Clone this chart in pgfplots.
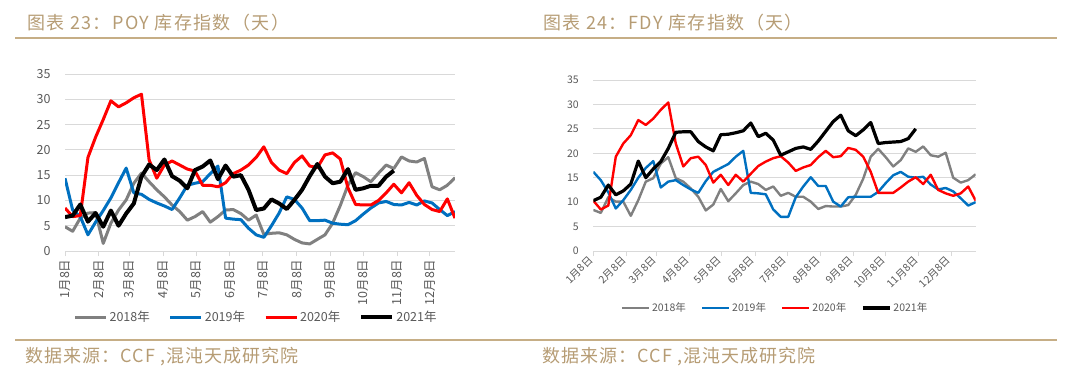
\documentclass[border=0pt]{standalone}
\usepackage{fontspec}
\setmainfont{Noto Sans CJK SC}
\newfontfamily\headfont[LetterSpace=8]{Noto Sans CJK SC}
\newfontfamily\srcfont[LetterSpace=6]{Noto Sans CJK SC}
\usepackage{pgfplots}
\pgfplotsset{compat=1.18}
\usepackage{pgfplotstable}

\definecolor{tanc}{RGB}{182,156,116}
\definecolor{rulec}{RGB}{198,174,134}
\definecolor{cgray}{RGB}{128,128,128}
\definecolor{cblue}{RGB}{0,112,192}
\definecolor{cred}{RGB}{255,0,0}
\definecolor{gridc}{RGB}{217,217,217}
\definecolor{labc}{RGB}{89,89,89}

% ---------- POY ----------
\pgfplotstableread{
x y
0 4.8
1 3.9
2 6.5
3 7.5
4 7.6
5 1.5
6 5.5
7 8.1
8 10.1
9 13.4
10 15.4
11 13.7
12 12.1
13 10.7
14 9.1
15 7.8
16 6.1
17 6.8
18 7.8
19 5.7
20 6.8
21 8.1
22 8.2
23 7.4
24 6.1
25 7.1
26 3.3
27 3.5
28 3.6
29 3.2
30 2.3
31 1.6
32 1.4
33 2.3
34 3.2
35 5.5
36 9.0
37 13.0
38 15.5
39 14.7
40 13.7
41 15.4
42 17.0
43 16.3
44 18.6
45 17.8
46 17.6
47 18.3
48 12.7
49 12.1
50 13.0
51 14.5
}\poyA
\pgfplotstableread{
x y
0 14.4
1 8.1
2 6.8
3 3.2
4 5.7
5 8.0
6 10.5
7 13.5
8 16.4
9 11.5
10 11.2
11 10.2
12 9.5
13 8.9
14 8.2
15 10.5
16 13.0
17 13.4
18 13.7
19 15.3
20 16.8
21 6.5
22 6.3
23 6.2
24 4.5
25 3.2
26 2.7
27 5.0
28 7.5
29 10.7
30 10.2
31 8.5
32 6.0
33 6.0
34 6.1
35 5.5
36 5.3
37 5.2
38 6.0
39 7.3
40 8.5
41 9.5
42 9.8
43 9.2
44 9.1
45 9.6
46 9.1
47 9.9
48 9.5
49 8.2
50 7.0
51 7.8
}\poyB
\pgfplotstableread{
x y
0 8.5
1 6.8
2 7.0
3 18.5
4 22.5
5 26.0
6 29.7
7 28.5
8 29.3
9 30.3
10 31.0
11 18.0
12 14.4
13 17.0
14 17.8
15 17.0
16 16.2
17 15.8
18 13.0
19 13.0
20 12.7
21 13.5
22 15.3
23 16.0
24 17.0
25 18.5
26 20.6
27 17.5
28 16.0
29 15.3
30 17.5
31 18.8
32 16.8
33 16.5
34 19.0
35 19.4
36 18.2
37 12.5
38 9.2
39 9.1
40 9.1
41 10.0
42 11.5
43 13.2
44 11.5
45 13.5
46 11.0
47 9.2
48 8.2
49 7.8
50 10.3
51 6.5
}\poyC
\pgfplotstableread{
x y
0 6.7
1 7.0
2 9.2
3 5.8
4 7.5
5 4.8
6 8.0
7 5.0
8 7.4
9 9.4
10 14.7
11 17.1
12 16.0
13 18.1
14 14.8
15 13.9
16 12.4
17 16.0
18 16.7
19 17.9
20 14.2
21 16.9
22 14.7
23 15.0
24 12.1
25 8.1
26 8.4
27 10.2
28 9.4
29 8.3
30 10.1
31 12.1
32 14.8
33 17.2
34 14.7
35 13.4
36 13.7
37 16.2
38 12.1
39 12.4
40 12.9
41 12.9
42 14.7
43 15.9
}\poyD

% ---------- FDY ----------
\pgfplotstableread{
x y
0 8.4
1 7.8
2 11.0
3 10.1
4 10.1
5 7.2
6 10.4
7 14.2
8 14.9
9 17.9
10 19.2
11 14.9
12 14.2
13 12.8
14 11.1
15 8.3
16 9.5
17 12.7
18 10.2
19 11.8
20 13.5
21 14.2
22 13.7
23 12.5
24 13.2
25 11.3
26 11.9
27 11.1
28 11.1
29 10.1
30 8.6
31 9.2
32 9.1
33 9.1
34 9.4
35 11.5
36 14.8
37 19.3
38 20.9
39 19.2
40 17.3
41 18.6
42 21.0
43 20.3
44 21.4
45 19.6
46 19.3
47 20.1
48 15.0
49 14.0
50 14.5
51 15.7
}\fdyA
\pgfplotstableread{
x y
0 16.2
1 14.5
2 12.0
3 8.7
4 10.4
5 12.5
6 15.0
7 17.0
8 18.4
9 13.0
10 14.2
11 14.5
12 13.5
13 12.6
14 11.9
15 14.3
16 16.2
17 17.0
18 17.8
19 19.3
20 20.5
21 11.9
22 11.8
23 11.6
24 8.5
25 7.0
26 7.0
27 11.0
28 13.2
29 15.1
30 13.3
31 13.3
32 10.1
33 9.1
34 11.0
35 11.1
36 11.1
37 11.1
38 12.1
39 13.9
40 15.5
41 16.2
42 15.2
43 15.0
44 15.2
45 13.6
46 12.6
47 12.9
48 12.2
49 10.8
50 9.3
51 10.0
}\fdyB
\pgfplotstableread{
x y
0 10.3
1 8.5
2 9.3
3 19.3
4 22.0
5 23.7
6 26.8
7 25.8
8 27.1
9 28.9
10 30.4
11 22.0
12 17.3
13 19.0
14 19.3
15 17.6
16 14.0
17 15.6
18 13.5
19 15.6
20 14.2
21 15.8
22 17.4
23 18.3
24 19.0
25 19.4
26 18.1
27 16.4
28 17.1
29 17.6
30 19.2
31 20.5
32 19.2
33 19.4
34 21.1
35 20.7
36 19.3
37 16.2
38 11.9
39 11.9
40 11.9
41 13.0
42 14.2
43 15.1
44 13.7
45 15.6
46 12.5
47 11.8
48 11.3
49 11.8
50 13.2
51 10.3
}\fdyC
\pgfplotstableread{
x y
0 10.3
1 11.0
2 13.5
3 11.5
4 12.3
5 13.7
6 18.4
7 15.0
8 16.8
9 18.3
10 21.0
11 24.3
12 24.4
13 24.4
14 22.4
15 21.3
16 20.5
17 23.8
18 23.9
19 24.2
20 24.6
21 26.2
22 23.4
23 24.1
24 22.7
25 19.6
26 20.3
27 21.0
28 21.3
29 20.8
30 22.5
31 24.5
32 26.5
33 27.8
34 24.6
35 23.6
36 24.8
37 26.3
38 22.0
39 22.2
40 22.3
41 22.4
42 23.0
43 25.0
}\fdyD

\pgfplotsset{
  inv/.style={
    scale only axis,
    xmin=0, xmax=51, ymin=0, ymax=35,
    ytick={0,5,...,35},
    xtick={0,4.43,8.43,12.86,17.14,21.57,25.86,30.29,34.71,39,43.43,47.71},
    xticklabels={1月8日,2月8日,3月8日,4月8日,5月8日,6月8日,7月8日,8月8日,9月8日,10月8日,11月8日,12月8日},
    axis x line*=bottom, axis y line*=left,
    x axis line style={-, gridc, line width=0.9pt},
    y axis line style={draw=none},
    ymajorgrids, grid style={gridc, line width=0.9pt},
    ytick style={draw=none},
    xtick style={gridc, line width=0.9pt},
    tick align=outside, major tick length=5pt,
    tick label style={labc},
    /pgf/number format/assume math mode=true,
    legend columns=4,
    legend style={draw=none, fill=none, text=labc, inner sep=0pt},
    legend cell align=left,
  }
}

\begin{document}
\begin{tikzpicture}[x=1pt,y=1pt]
\useasboundingbox (0,0) rectangle (1080,373);

% headers and rules
\node[anchor=west, inner sep=0pt, text=tanc, font=\headfont\fontsize{18}{20}\selectfont] at (27,350.5) {图表 23：POY 库存指数（天）};
\node[anchor=west, inner sep=0pt, text=tanc, font=\headfont\fontsize{18}{20}\selectfont] at (543,350.5) {图表 24：FDY 库存指数（天）};
\draw[rulec, line width=1.6pt] (15,335) -- (1057,335);
\draw[rulec, line width=1.6pt] (15,33) -- (1057,33);
\node[anchor=west, inner sep=0pt, text=tanc, font=\srcfont\fontsize{18}{20}\selectfont] at (25,16) {数据来源：CCF ,混沌天成研究院};
\node[anchor=west, inner sep=0pt, text=tanc, font=\srcfont\fontsize{18}{20}\selectfont] at (542,16) {数据来源：CCF ,混沌天成研究院};

% ---------- POY axis ----------
\begin{axis}[inv,
  at={(65pt,122pt)}, anchor=south west,
  width=390pt, height=177pt,
  tick label style={font=\fontsize{12.5}{14}\selectfont},
  yticklabel style={xshift=-6pt},
  xticklabel style={rotate=90, anchor=east, yshift=0pt},
  legend style={at={(0.49,-0.373)}, anchor=center,
    font=\fontsize{12.5}{14}\selectfont,
    /tikz/every even column/.append style={column sep=17pt}},
  legend image code/.code={\draw[#1] (0pt,0pt) -- (31pt,0pt);},
]
\addplot[cgray, line width=3pt, line join=round] table {\poyA};
\addlegendentry{2018年}
\addplot[cblue, line width=3pt, line join=round] table {\poyB};
\addlegendentry{2019年}
\addplot[cred, line width=3pt, line join=round] table {\poyC};
\addlegendentry{2020年}
\addplot[black, line width=4pt, line join=round] table {\poyD};
\addlegendentry{2021年}
\end{axis}

% ---------- FDY axis ----------
\begin{axis}[inv,
  at={(593.3pt,122pt)}, anchor=south west,
  width=382.4pt, height=171pt,
  tick label style={font=\fontsize{10.5}{12}\selectfont},
  yticklabel style={xshift=-6pt},
  xticklabel style={rotate=45, anchor=east, font=\fontsize{10.5}{12}\selectfont},
  legend style={at={(0.475,-0.333)}, anchor=center,
    font=\fontsize{10.5}{12}\selectfont,
    /tikz/every even column/.append style={column sep=13pt}},
  legend image code/.code={\draw[#1] (0pt,0pt) -- (27pt,0pt);},
]
\addplot[cgray, line width=2.4pt, line join=round] table {\fdyA};
\addlegendentry{2018年}
\addplot[cblue, line width=2.4pt, line join=round] table {\fdyB};
\addlegendentry{2019年}
\addplot[cred, line width=2.4pt, line join=round] table {\fdyC};
\addlegendentry{2020年}
\addplot[black, line width=3.2pt, line join=round] table {\fdyD};
\addlegendentry{2021年}
\end{axis}
\end{tikzpicture}
\end{document}
